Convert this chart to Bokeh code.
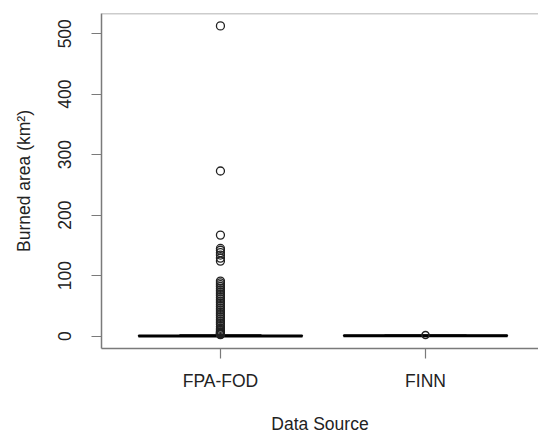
from bokeh.plotting import figure
from bokeh.models import FixedTicker, Span, Range1d
from bokeh.embed import file_html
from bokeh.resources import INLINE

# ---- data ----
categories = ["FPA-FOD", "FINN"]
positions = [1, 2]
q1 = [0.05, 0.3]
median = [0.2, 0.6]
q3 = [0.8, 1.0]
whisker_low = [0.0, 0.1]
whisker_high = [2.0, 1.6]
outliers_fpa = [513, 273, 167, 145, 142, 138, 134, 129, 124,
                91, 88, 85, 82, 79, 76, 73, 70, 67, 64, 61, 58, 55, 52,
                49, 46, 43, 40, 37, 34, 31, 28, 25, 22, 19, 16, 13, 11,
                9, 7, 6, 5, 4, 3.5, 3, 2.5]
outliers_finn = [2.0]
y_ticks = [0, 100, 200, 300, 400, 500]

FONT = "Liberation Sans"
FS = "17.5px"
TXT = "#222222"
FRAME = "#7a7a7a"

p = figure(width=538, height=436, output_backend="svg", toolbar_location=None,
           x_range=Range1d(0.42, 2.551), y_range=Range1d(-20.5, 533.5),
           min_border_left=101, min_border_right=0, min_border_top=13, min_border_bottom=84)
p.outline_line_color = None
p.xgrid.visible = False
p.ygrid.visible = False
p.background_fill_color = "white"
p.border_fill_color = "white"

box_half = 0.4
staple_half = 0.2
for i, x in enumerate(positions):
    # whiskers
    p.segment(x0=[x, x], y0=[q3[i], q1[i]], x1=[x, x], y1=[whisker_high[i], whisker_low[i]],
              line_color="black", line_width=1, line_dash="4 3")
    # staples
    p.segment(x0=[x - staple_half] * 2, y0=[whisker_high[i], whisker_low[i]],
              x1=[x + staple_half] * 2, y1=[whisker_high[i], whisker_low[i]],
              line_color="black", line_width=1.3)
    # box
    p.quad(left=[x - box_half], right=[x + box_half], bottom=[q1[i]], top=[q3[i]],
           fill_color=None, line_color="black", line_width=1.3)
    # median
    p.segment(x0=[x - box_half], y0=[median[i]], x1=[x + box_half], y1=[median[i]],
              line_color="black", line_width=3.2)

p.scatter(x=[1] * len(outliers_fpa), y=outliers_fpa, marker="circle", size=8,
          fill_color=None, line_color="#222222", line_width=1.3)
p.scatter(x=[2] * len(outliers_finn), y=outliers_finn, marker="circle", size=7,
          fill_color=None, line_color="#222222", line_width=1.5)

# top frame edge
p.add_layout(Span(location=533.5, dimension="width", line_color="#999999", line_width=1.5))

# axes
xa = p.xaxis[0]
xa.ticker = FixedTicker(ticks=positions)
xa.major_label_overrides = {positions[i]: categories[i] for i in range(len(categories))}
xa.axis_label = "Data Source"
ya = p.yaxis[0]
ya.ticker = FixedTicker(ticks=y_ticks)
ya.axis_label = "Burned area (km²)"
ya.major_label_orientation = "vertical"

for ax in (xa, ya):
    ax.minor_tick_line_color = None
    ax.major_tick_in = 0
    ax.major_tick_out = 10
    ax.major_tick_line_color = FRAME
    ax.major_tick_line_width = 1.2
    ax.axis_line_color = FRAME
    ax.axis_line_width = 1.5
    ax.major_label_text_font = FONT
    ax.major_label_text_font_size = FS
    ax.major_label_text_color = TXT
    ax.axis_label_text_font = FONT
    ax.axis_label_text_font_size = FS
    ax.axis_label_text_font_style = "normal"
    ax.axis_label_text_color = TXT

xa.major_label_standoff = 12
xa.axis_label_standoff = 20
ya.major_label_standoff = 20
ya.axis_label_standoff = 22

open("out.html", "w").write(file_html(p, INLINE))
